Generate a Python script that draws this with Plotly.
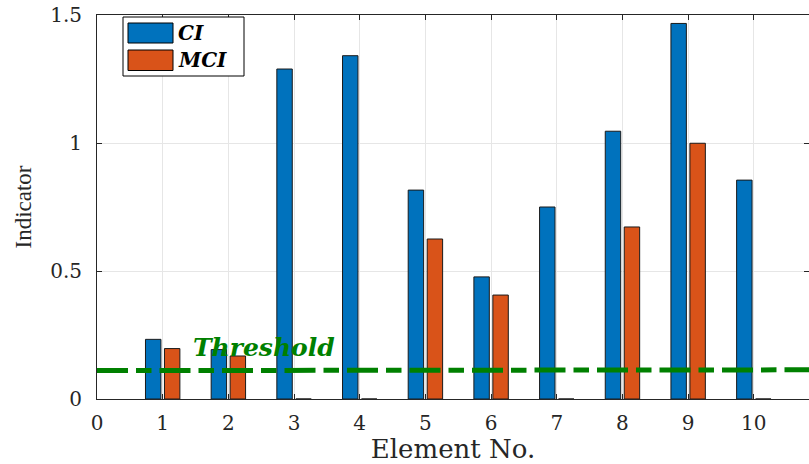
import plotly.graph_objects as go

# ---- data ----
elements = [1, 2, 3, 4, 5, 6, 7, 8, 9, 10]
ci_values = [0.233, 0.193, 1.289, 1.341, 0.816, 0.477, 0.750, 1.046, 1.467, 0.855]
mci_values = [0.197, 0.168, 0.0, 0.0, 0.625, 0.406, 0.0, 0.672, 0.999, 0.0]
series_names = ["CI", "MCI"]
threshold_x = [0, 11]
threshold_y = [0.111, 0.114]
threshold_label = "Threshold"
x_ticks = [0, 1, 2, 3, 4, 5, 6, 7, 8, 9, 10]
y_ticks = [0, 0.5, 1, 1.5]
x_title = "Element No."
y_title = "Indicator"

# ---- style ----
W, H = 809, 464
ML, MR, MT, MB = 97, 0, 15, 65
C_CI = "#0072BD"
C_MCI = "#D95319"
EDGE = "#1a1a1a"
AXC = "#262626"
GRID = "#e6e6e6"
SERIF = "DejaVu Serif"
TIMES = "Liberation Serif"

fig = go.Figure()
fig.add_trace(go.Bar(
    x=elements, y=ci_values, name=series_names[0],
    width=0.235, offset=-0.262,
    marker=dict(color=C_CI, line=dict(color=EDGE, width=1)),
    showlegend=False,
))
fig.add_trace(go.Bar(
    x=elements, y=mci_values, name=series_names[1],
    width=0.235, offset=0.027,
    marker=dict(color=C_MCI, line=dict(color=EDGE, width=1)),
    showlegend=False,
))
fig.add_trace(go.Scatter(
    x=threshold_x, y=threshold_y, mode="lines",
    line=dict(color="#008000", width=5, dash="31px,8px,15.5px,8px"),
    showlegend=False, hoverinfo="skip",
))

fig.add_annotation(
    x=2.55, y=0.203, xref="x", yref="y", text="<b><i>%s</i></b>" % threshold_label,
    showarrow=False, font=dict(family=SERIF, size=25, color="#008000"),
    xanchor="center", yanchor="middle",
)

# ---- manual legend (large swatches like the reference) ----
pw = W - ML - MR
ph = H - MT - MB
def px(x):
    return (x - ML) / pw
def py(y):
    return (H - MB - y) / ph

shapes = []
shapes.append(dict(type="rect", xref="paper", yref="paper",
                   x0=px(123), x1=px(244), y0=py(17), y1=py(76),
                   fillcolor="white", line=dict(color="#000000", width=1), layer="above"))
legend_rows = [(series_names[0], C_CI, 23, 43), (series_names[1], C_MCI, 50, 70.5)]
for name, col, top, bot in legend_rows:
    shapes.append(dict(type="rect", xref="paper", yref="paper",
                       x0=px(128), x1=px(173), y0=py(top), y1=py(bot),
                       fillcolor=col, line=dict(color="#000000", width=1), layer="above"))
    fig.add_annotation(
        x=px(176), y=py((top + bot) / 2), xref="paper", yref="paper",
        text="<b><i>%s</i></b>" % name, showarrow=False,
        font=dict(family=SERIF, size=20, color="#000000"),
        xanchor="left", yanchor="middle",
    )

fig.update_layout(
    width=W, height=H, autosize=False,
    margin=dict(l=ML, r=MR, t=MT, b=MB, pad=0),
    paper_bgcolor="white", plot_bgcolor="white",
    shapes=shapes,
    barmode="overlay",
)

fig.update_xaxes(
    range=[0, 10.84], tickmode="array", tickvals=x_ticks,
    ticktext=[str(t) for t in x_ticks],
    showgrid=True, gridcolor=GRID, gridwidth=1,
    showline=True, linecolor=AXC, linewidth=1, mirror="ticks",
    ticks="inside", ticklen=5, tickcolor=AXC,
    tickfont=dict(family=SERIF, size=20, color="#262626"),
    ticklabelstandoff=6,
    zeroline=False,
    title=dict(text=x_title, font=dict(family=SERIF, size=26, color="#262626"), standoff=0),
)
fig.update_yaxes(
    range=[0, 1.5], tickmode="array", tickvals=y_ticks,
    ticktext=["0", "0.5", "1", "1.5"],
    showgrid=True, gridcolor=GRID, gridwidth=1,
    showline=True, linecolor=AXC, linewidth=1, mirror="ticks",
    ticks="inside", ticklen=5, tickcolor=AXC,
    tickfont=dict(family=SERIF, size=20, color="#262626"),
    ticklabelstandoff=10,
    zeroline=False,
    title=dict(text=y_title, font=dict(family=TIMES, size=23, color="#262626"), standoff=12),
)

fig.write_html("out.html")
